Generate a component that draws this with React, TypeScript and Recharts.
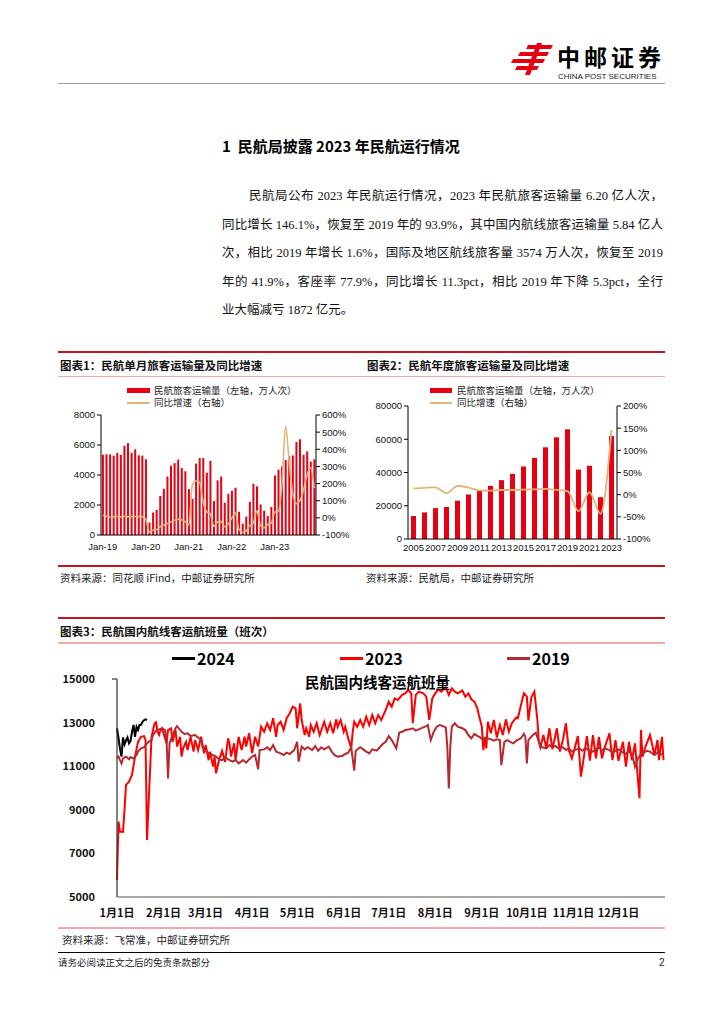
import React from 'react';
import { ComposedChart, LineChart, Bar, Line, XAxis, YAxis } from 'recharts';

const CJK = '"Noto Sans CJK SC", "Noto Sans", sans-serif';
const BODY = '"Liberation Serif", "Noto Sans CJK SC", serif';
const NUM = '"Liberation Sans", Arial, sans-serif';
const RED = '#e60012';
const TAN = '#e2b47c';

// ---- chart 1: monthly passengers (万人次) and YoY (%)
const monthNames = ['Jan', 'Feb', 'Mar', 'Apr', 'May', 'Jun', 'Jul', 'Aug', 'Sep', 'Oct', 'Nov', 'Dec'];
const monthYears = ['19', '20', '21', '22', '23'];
const monthLabels: string[] = [];
monthYears.forEach((y) => monthNames.forEach((m) => monthLabels.push(`${m}-${y}`)));

const monthlyPassengers = [
  5350, 5380, 5370, 5290, 5470, 5340, 5950, 6130, 5480, 5710, 5310, 5290,
  5050, 830, 1500, 1670, 2600, 3080, 3900, 4620, 4790, 5030, 4460, 4250,
  3060, 2400, 4760, 5130, 5130, 4150, 4940, 2260, 3640, 3900, 2150, 2740,
  2950, 3150, 1550, 760, 1220, 2210, 3410, 3240, 2040, 1620, 1260, 1860,
  3970, 4350, 4570, 5000, 5250, 5300, 6200, 6380, 5350, 5570, 4890, 5040,
];
const monthlyGrowth = [
  15, 10, 5, 6, 8, 6, 8, 6, 7, 8, 7, 7,
  -6, -84, -72, -68, -52, -42, -34, -24, -14, -8, -12, -22,
  -42, 190, 215, 208, 95, 35, 25, -50, -25, -22, -52, -36,
  -3, 30, -67, -85, -76, -46, -31, 42, -43, -58, -40, -31,
  34, 39, 194, 535, 333, 141, 82, 100, 161, 250, 292, 173,
];
const monthlyData = monthLabels.map((m, i) => ({ m, p: monthlyPassengers[i], g: monthlyGrowth[i] }));

// ---- chart 2: annual passengers and YoY
const years = ['2005', '2006', '2007', '2008', '2009', '2010', '2011', '2012', '2013', '2014',
  '2015', '2016', '2017', '2018', '2019', '2020', '2021', '2022', '2023'];
const annualPassengers = [13830, 15970, 18580, 19250, 23050, 26770, 29320, 31940, 35400, 39200,
  43620, 48800, 55160, 61170, 65990, 41780, 44060, 25170, 61960];
const annualGrowth = [14, 15.5, 16.5, 3.5, 19.5, 16, 9.5, 9, 10.5, 10.5,
  11.5, 12, 13, 11, 8, -37, 5.5, -43, 146];
const annualData = years.map((y, i) => ({ y, p: annualPassengers[i], g: annualGrowth[i] }));

// ---- chart 3: daily domestic flights, [day of year, flights]
const flights2024: [number, number][] = [
  [0, 12740], [1, 12300], [2, 11800], [3, 11440], [4, 12320], [5, 12000], [6, 12180], [7, 12320],
  [8, 12050], [9, 12150], [10, 12580], [11, 12890], [12, 12350], [13, 12810], [14, 12660], [15, 12890],
  [16, 12900], [17, 13040], [18, 13110], [19, 13150], [20, 13120],
];
const flights2023: [number, number][] = [
  [0, 5780], [1, 8460], [2, 8000], [4, 7990], [5, 9000], [6, 10140], [8, 10290], [10, 10600], [12, 11440],
  [14, 12120], [16, 12350], [18, 12380], [19, 12200], [20, 7620], [23, 12350], [25, 12960], [26, 13010],
  [27, 12580], [28, 12430], [29, 12660], [30, 12740], [33, 12050], [34, 12660], [36, 12740], [37, 12120],
  [39, 12660], [40, 11900], [42, 12350], [43, 11440], [44, 11820], [46, 12120], [47, 11740], [49, 12350],
  [51, 11670], [52, 12200], [54, 11740], [56, 12350], [58, 11590], [59, 11970], [61, 11280], [62, 11670],
  [64, 10980], [65, 11440], [66, 10670], [68, 11300], [70, 11700], [72, 11200], [74, 12280], [75, 12000],
  [76, 11440], [78, 12050], [79, 11280], [81, 12350], [83, 11740], [85, 12350], [86, 11900], [88, 12510],
  [90, 11600], [92, 12350], [94, 11900], [96, 12810], [98, 12580], [100, 12960], [102, 12660], [104, 13200],
  [106, 12350], [107, 12890], [109, 13040], [111, 12660], [113, 13200], [115, 13420], [117, 13730],
  [119, 13650], [120, 12740], [122, 13880], [123, 13120], [125, 12430], [126, 12740], [128, 12350],
  [129, 12890], [131, 12580], [133, 12970], [135, 12430], [138, 13040], [140, 12580], [142, 12970],
  [144, 12510], [146, 13150], [147, 12810], [149, 13120], [151, 12580], [152, 12810], [154, 12280],
  [156, 11820], [157, 12580], [158, 13040], [160, 12810], [162, 13120], [164, 12810], [166, 13270],
  [168, 12890], [170, 13350], [172, 12970], [174, 13350], [176, 13120], [179, 13580], [181, 13960],
  [183, 13730], [185, 14110], [187, 14040], [190, 14270], [192, 14340], [194, 14500], [196, 14340],
  [197, 12970], [199, 14270], [201, 14420], [204, 14340], [206, 14190], [208, 13120], [210, 14110],
  [212, 14340], [214, 14530], [216, 14420], [219, 14620], [221, 14270], [223, 14570], [225, 14420],
  [227, 14340], [230, 14470], [232, 14190], [234, 14340], [236, 14070], [238, 13960], [240, 13650],
  [241, 13350], [243, 12810], [244, 11740], [245, 12350], [246, 11820], [247, 13040], [249, 12510],
  [251, 13120], [253, 12320], [255, 12890], [257, 12430], [259, 13150], [261, 12580], [263, 12970],
  [266, 13240], [267, 13200], [270, 14070], [271, 14340], [273, 14190], [274, 13090], [276, 14160],
  [278, 14420], [280, 13120], [281, 12120], [282, 11870], [284, 12430], [286, 11820], [288, 12740],
  [290, 11770], [292, 12430], [293, 12740], [295, 11670], [297, 12200], [299, 12970], [301, 11710],
  [303, 11360], [305, 11870], [307, 12380], [309, 10520], [311, 11440], [313, 12380], [315, 11250],
  [317, 12430], [319, 11360], [321, 12350], [323, 11360], [325, 11900], [328, 12510], [330, 11280],
  [332, 12200], [334, 11250], [337, 12120], [339, 10980], [341, 12120], [343, 11280], [345, 12050],
  [348, 9530], [349, 12660], [350, 11440], [352, 11900], [355, 12430], [358, 11510], [360, 12200],
  [361, 11280], [363, 12350], [364, 11280],
];
const flights2019: [number, number][] = [
  [0, 11390], [1, 11440], [2, 11280], [3, 11130], [4, 11360], [6, 11440], [8, 11320], [9, 11410],
  [11, 11360], [13, 11510], [14, 11670], [16, 11820], [18, 11870], [19, 11970], [21, 12120], [23, 12200],
  [24, 12430], [26, 12630], [28, 12690], [30, 12740], [32, 12660], [33, 12200], [34, 10440], [35, 12050],
  [37, 12430], [39, 12740], [40, 12840], [43, 12580], [45, 12480], [47, 12510], [49, 12390], [52, 12430],
  [54, 12320], [56, 12200], [57, 11870], [59, 11740], [61, 11590], [64, 11510], [66, 11440], [68, 11310],
  [70, 11280], [72, 11400], [75, 11280], [77, 11210], [79, 11280], [81, 11130], [84, 11280], [86, 11160],
  [88, 11310], [90, 11440], [92, 11510], [94, 10860], [95, 11740], [98, 11770], [100, 11870], [102, 11740],
  [104, 11970], [106, 11670], [109, 11590], [111, 11510], [113, 11620], [115, 11560], [118, 11740],
  [120, 12120], [121, 11210], [123, 11900], [125, 11770], [127, 11870], [130, 11740], [132, 11930],
  [134, 11710], [136, 11870], [138, 11770], [141, 11900], [143, 11670], [145, 11510], [147, 11440],
  [150, 11470], [152, 11560], [154, 11620], [156, 11870], [158, 10800], [159, 11710], [162, 11870],
  [164, 11770], [166, 11670], [168, 11590], [170, 11770], [173, 11710], [175, 11870], [177, 12020],
  [179, 12120], [181, 12380], [183, 12200], [186, 11820], [188, 12540], [190, 12580], [192, 12660],
  [195, 12690], [197, 12740], [199, 12630], [201, 12690], [204, 12780], [206, 12840], [207, 12890],
  [209, 12200], [211, 12580], [213, 12810], [215, 12890], [217, 12840], [219, 12780], [220, 11900],
  [221, 9980], [222, 11900], [223, 12810], [225, 12970], [227, 12810], [230, 12740], [232, 12660],
  [234, 12430], [236, 12280], [238, 12480], [240, 12390], [242, 12320], [244, 12200], [247, 12280],
  [249, 12230], [251, 12170], [253, 12230], [255, 12200], [256, 11050], [258, 12120], [260, 12200],
  [262, 12120], [264, 12050], [266, 12170], [269, 12280], [271, 12480], [272, 12350], [273, 11130],
  [274, 12200], [277, 12430], [279, 12540], [281, 12120], [283, 11870], [286, 11820], [288, 11970],
  [290, 11870], [292, 11930], [294, 11820], [297, 11870], [299, 11740], [301, 11820], [303, 11670],
  [305, 11740], [308, 11820], [310, 11710], [312, 11820], [314, 11740], [317, 11670], [319, 11770],
  [321, 11870], [323, 11710], [325, 11820], [328, 11740], [330, 11620], [332, 11710], [334, 11770],
  [337, 11620], [339, 11560], [341, 11710], [343, 11510], [344, 11280], [345, 10980], [347, 11360],
  [349, 11560], [351, 11620], [353, 11710], [355, 11670], [358, 11510], [360, 11620], [362, 11560],
  [364, 11510],
];
const monthStarts = [0, 31, 59, 90, 120, 151, 181, 212, 243, 273, 304, 334];
const monthTickLabels = ['1月1日', '2月1日', '3月1日', '4月1日', '5月1日', '6月1日',
  '7月1日', '8月1日', '9月1日', '10月1日', '11月1日', '12月1日'];
const flightTicks = [5000, 7000, 9000, 11000, 13000, 15000];

const toPts = (arr: [number, number][]) => arr.map(([day, v]) => ({ day, v }));

const paraLines = [
  '民航局公布 2023 年民航运行情况，2023 年民航旅客运输量 6.20 亿人次，',
  '同比增长 146.1%，恢复至 2019 年的 93.9%，其中国内航线旅客运输量 5.84 亿人',
  '次，相比 2019 年增长 1.6%，国际及地区航线旅客量 3574 万人次，恢复至 2019',
  '年的 41.9%，客座率 77.9%，同比增长 11.3pct，相比 2019 年下降 5.3pct，全行',
  '业大幅减亏 1872 亿元。',
];

const Txt: React.FC<{ x: number; y: number; size: number; bold?: boolean; color?: string; family?: string; lh?: number; children: React.ReactNode }> = ({ x, y, size, bold, color = '#111', family = CJK, lh = 1.4, children }) => (
  <div style={{ position: 'absolute', left: x, top: y - (size * lh) / 2, fontSize: size, lineHeight: `${size * lh}px`, fontWeight: bold ? 700 : 400, color, fontFamily: family, whiteSpace: 'nowrap' }}>
    {children}
  </div>
);

const HLine: React.FC<{ x1: number; x2: number; y: number; h: number; color: string }> = ({ x1, x2, y, h, color }) => (
  <div style={{ position: 'absolute', left: x1, top: y - h / 2, width: x2 - x1, height: h, background: color }} />
);

const smallTick = { fontSize: 9.5, fill: '#111', fontFamily: NUM };

const FlightYTick = (props: any) => {
  const { x, y, payload } = props;
  return (
    <g>
      {payload.value === 15000 && <line x1={x + 17} x2={x + 22} y1={y} y2={y} stroke="#333" strokeWidth={1.2} />}
      <text x={x} y={y} dy={4} textAnchor="end" fontSize={11} fontWeight={700} fontFamily={CJK} fill="#111">{payload.value}</text>
    </g>
  );
};

const App: React.FC = () => (
  <div style={{ position: 'absolute', left: 0, top: 0, width: 724, height: 1024, overflow: 'hidden', background: '#fff' }}>
    {/* header logo */}
    <svg style={{ position: 'absolute', left: 510, top: 42 }} width={46} height={34}>
      <polygon points="18,3 43,3 41,7 16,7" fill="#e60012" />
      <polygon points="10,10 39,10 37,14 8,14" fill="#e60012" />
      <polygon points="3,17 35,17 33,21 1,21" fill="#e60012" />
      <polygon points="7,24 29,24 27,28 5,28" fill="#e60012" />
      <polygon points="27,1 32,1 20,33 15,33" fill="#e60012" />
    </svg>
    <Txt x={557} y={56} size={23} bold color="#000" lh={1}>
      <span style={{ letterSpacing: 4 }}>中邮证券</span>
    </Txt>
    <Txt x={558} y={77} size={8} family={NUM} color="#222" lh={1.1}>CHINA POST SECURITIES</Txt>
    <HLine x1={58} x2={665} y={83.5} h={1} color="#9a9a9a" />

    {/* section */}
    <Txt x={222} y={145} size={15} bold color="#000">1&nbsp;&nbsp;民航局披露 2023 年民航运行情况</Txt>
    {paraLines.map((t, i) => {
      const last = i === paraLines.length - 1;
      const left = i === 0 ? 249 : 222;
      return (
        <div key={i} style={{ position: 'absolute', left, top: 196 + i * 28.5 - 9, width: 663 - left, fontSize: 12.5, lineHeight: '18px', fontFamily: BODY, color: '#111', textAlign: 'justify', textAlignLast: last ? 'left' : 'justify' }}>{t}</div>
      );
    })}

    {/* charts 1 & 2 frame */}
    <HLine x1={58} x2={665} y={351.5} h={2} color="#c8161d" />
    <Txt x={60} y={365} size={11.5} bold color="#111">图表1：民航单月旅客运输量及同比增速</Txt>
    <Txt x={367} y={365} size={11.5} bold color="#111">图表2：民航年度旅客运输量及同比增速</Txt>
    <HLine x1={58} x2={665} y={376} h={1} color="#f0a8a8" />

    {/* chart 1 legend */}
    <div style={{ position: 'absolute', left: 127, top: 388, width: 23, height: 5, background: RED }} />
    <Txt x={154} y={390.5} size={9.5} color="#222">民航旅客运输量（左轴，万人次）</Txt>
    <div style={{ position: 'absolute', left: 127, top: 401.8, width: 23, height: 2.2, background: TAN }} />
    <Txt x={154} y={403} size={9.5} color="#222">同比增速（右轴）</Txt>

    <div style={{ position: 'absolute', left: 56, top: 405 }}>
      <ComposedChart width={310} height={155} data={monthlyData} margin={{ top: 10, right: 10, bottom: 0, left: 0 }} barCategoryGap="26%">
        <XAxis dataKey="m" interval={11} tickLine={false} tickSize={0} tickMargin={8} height={25} axisLine={{ stroke: '#000' }} tick={smallTick} />
        <YAxis yAxisId="l" domain={[0, 8000]} ticks={[0, 2000, 4000, 6000, 8000]} width={45} tickSize={4} tickMargin={2} axisLine={{ stroke: '#000' }} tickLine={{ stroke: '#000' }} tick={smallTick} />
        <YAxis yAxisId="r" orientation="right" domain={[-100, 600]} ticks={[-100, 0, 100, 200, 300, 400, 500, 600]} tickFormatter={(v) => `${v}%`} width={40} tickSize={4} tickMargin={2} axisLine={{ stroke: '#000' }} tickLine={{ stroke: '#000' }} tick={smallTick} />
        <Bar yAxisId="l" dataKey="p" fill={RED} isAnimationActive={false} />
        <Line yAxisId="r" type="monotone" dataKey="g" stroke={TAN} strokeWidth={1.6} dot={false} isAnimationActive={false} />
      </ComposedChart>
    </div>

    {/* chart 2 legend */}
    <div style={{ position: 'absolute', left: 430, top: 388, width: 22, height: 5, background: RED }} />
    <Txt x={457} y={390.5} size={9.5} color="#222">民航旅客运输量（左轴，万人次）</Txt>
    <div style={{ position: 'absolute', left: 430, top: 401.8, width: 22, height: 2.2, background: TAN }} />
    <Txt x={457} y={403} size={9.5} color="#222">同比增速（右轴）</Txt>

    <div style={{ position: 'absolute', left: 363, top: 396 }}>
      <ComposedChart width={304} height={168} data={annualData} margin={{ top: 10, right: 10, bottom: 0, left: 0 }}>
        <XAxis dataKey="y" interval={1} tickLine={false} tickSize={0} tickMargin={5} height={25} axisLine={{ stroke: '#000' }} tick={smallTick} />
        <YAxis yAxisId="l" domain={[0, 80000]} ticks={[0, 20000, 40000, 60000, 80000]} width={45} tickSize={4} tickMargin={2} axisLine={{ stroke: '#000' }} tickLine={{ stroke: '#000' }} tick={smallTick} />
        <YAxis yAxisId="r" orientation="right" domain={[-100, 200]} ticks={[-100, -50, 0, 50, 100, 150, 200]} tickFormatter={(v) => `${v}%`} width={40} tickSize={4} tickMargin={2} axisLine={{ stroke: '#000' }} tickLine={{ stroke: '#000' }} tick={smallTick} />
        <Bar yAxisId="l" dataKey="p" fill={RED} barSize={5} isAnimationActive={false} />
        <Line yAxisId="r" type="monotone" dataKey="g" stroke={TAN} strokeWidth={1.8} dot={false} isAnimationActive={false} />
      </ComposedChart>
    </div>

    <HLine x1={58} x2={665} y={566} h={1.6} color="#c8161d" />
    <Txt x={60} y={578} size={10.5} color="#222">资料来源：同花顺 iFind，中邮证券研究所</Txt>
    <Txt x={366} y={578} size={10.5} color="#222">资料来源：民航局，中邮证券研究所</Txt>

    {/* chart 3 */}
    <HLine x1={58} x2={665} y={618} h={2} color="#c8161d" />
    <Txt x={60} y={631} size={11.5} bold color="#111">图表3：民航国内航线客运航班量（班次）</Txt>
    <HLine x1={58} x2={665} y={643} h={1.2} color="#f0a8a8" />

    <div style={{ position: 'absolute', left: 172, top: 657, width: 23, height: 2.5, background: '#000' }} />
    <Txt x={197} y={658} size={16} bold color="#000">2024</Txt>
    <div style={{ position: 'absolute', left: 340, top: 657, width: 23, height: 2.5, background: '#ff0000' }} />
    <Txt x={365} y={658} size={16} bold color="#000">2023</Txt>
    <div style={{ position: 'absolute', left: 507, top: 657, width: 23, height: 2.5, background: '#b5292f' }} />
    <Txt x={532} y={658} size={16} bold color="#000">2019</Txt>

    <div style={{ position: 'absolute', left: 57, top: 669 }}>
      <LineChart width={613} height={258} margin={{ top: 10, right: 5, bottom: 0, left: 0 }}>
        <XAxis type="number" dataKey="day" domain={[0, 365]} ticks={monthStarts} tickFormatter={(v) => monthTickLabels[monthStarts.indexOf(v)]} interval={0} tickLine={false} tickSize={0} tickMargin={12} height={30} axisLine={{ stroke: '#555', strokeWidth: 1.2 }} tick={{ fontSize: 11, fontWeight: 700, fill: '#111', fontFamily: CJK }} />
        <YAxis domain={[5000, 15000]} ticks={flightTicks} width={60} tickSize={5} tickMargin={17} tickLine={false} axisLine={{ stroke: '#333', strokeWidth: 1.2 }} tick={FlightYTick} />
        <Line data={toPts(flights2023)} dataKey="v" type="linear" stroke="#ff0000" strokeWidth={2} dot={false} isAnimationActive={false} />
        <Line data={toPts(flights2019)} dataKey="v" type="linear" stroke="#b5292f" strokeWidth={2} dot={false} isAnimationActive={false} />
        <Line data={toPts(flights2024)} dataKey="v" type="linear" stroke="#000" strokeWidth={2} dot={false} isAnimationActive={false} />
      </LineChart>
    </div>
    <Txt x={305} y={682} size={14.5} bold color="#000">民航国内线客运航班量</Txt>

    <HLine x1={58} x2={665} y={928} h={1.2} color="#f0a8a8" />
    <Txt x={62} y={940} size={10.5} color="#222">资料来源：飞常准，中邮证券研究所</Txt>
    <HLine x1={58} x2={665} y={952.5} h={1} color="#000" />
    <Txt x={58} y={963} size={9.5} color="#222">请务必阅读正文之后的免责条款部分</Txt>
    <Txt x={659} y={963} size={10} family={NUM} color="#222">2</Txt>
  </div>
);

export default App;
